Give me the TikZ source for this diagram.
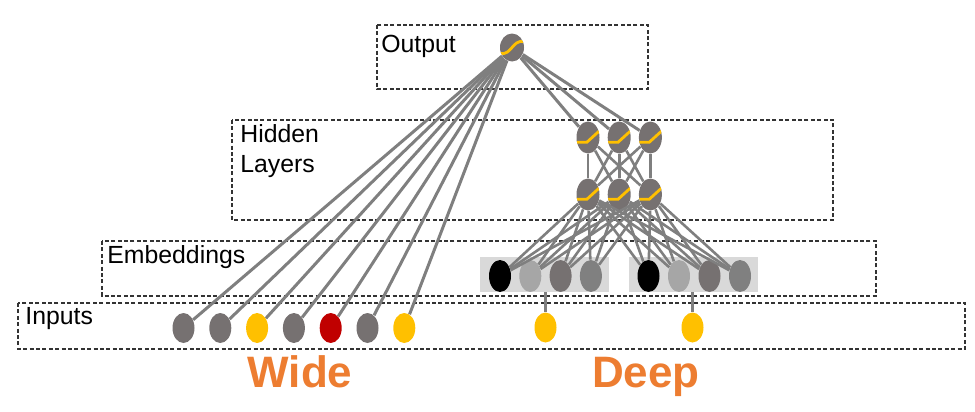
\documentclass[tikz,border=0pt]{standalone}
\usepackage{fontspec}
\setmainfont{Liberation Sans}
\usetikzlibrary{shapes.geometric,positioning}
\definecolor{unitgray}{HTML}{767171}
\definecolor{midunit}{HTML}{808080}
\definecolor{lightunit}{HTML}{A6A6A6}
\definecolor{amber}{HTML}{FFC000}
\definecolor{crimson}{HTML}{C00000}
\definecolor{linkgray}{HTML}{7F7F7F}
\definecolor{embfill}{HTML}{D9D9D9}
\definecolor{widedeep}{HTML}{ED7D31}
\tikzset{
    unit/.style={
        ellipse, fill=#1, inner sep=0pt,
        minimum width=11pt, minimum height=15pt,
    },
    relu unit/.style={
        unit=unitgray, minimum width=11.5pt, minimum height=16pt,
        path picture={\draw[amber, line width=1.4pt]
            ([shift={(-6pt,-2.4pt)}]path picture bounding box.center)
            -- ++(5.4pt,0pt) -- ++(6.6pt,6pt);},
    },
    sigmoid unit/.style={
        unit=unitgray, minimum width=12pt, minimum height=14pt,
        path picture={\draw[amber, line width=1.4pt, shift={(path picture bounding box.center)}]
            (-6pt,-3pt) .. controls (0pt,-4pt) and (0pt,4pt) .. (6pt,3pt);},
    },
}
\tikzstyle{wide and deep}=[
    x=0.5pt,y=-0.5pt,
    every node/.style={
        font=\fontsize{12.4}{15}\selectfont,
    },
    layer box/.style={
        draw=black!80, line width=0.6pt, dash pattern=on 2pt off 1.2pt,
        inner sep=0pt,
    },
    emb box/.style={fill=embfill, inner sep=0pt, minimum width=64.5pt, minimum height=17.5pt},
    layer label/.style={anchor=north west, inner sep=0pt, align=left},
    big label/.style={anchor=base, font=\fontsize{22}{26}\selectfont\bfseries, text=widedeep},
    link/.style={draw=linkgray, line width=1.5pt},
]

\begin{document}
\begin{tikzpicture}[wide and deep]
    \useasboundingbox (0,0) rectangle (975,412);

    % layer boxes
    \draw[layer box] (377,25) rectangle (648,89);
    \draw[layer box] (232,120) rectangle (833,220);
    \draw[layer box] (102,241) rectangle (876,296);
    \draw[layer box] (18,303) rectangle (965,349);
    \node[layer label] (outlabel) at (381,35) {Output};
    \node[layer label] (hidlabel) at (240,124) {Hidden\\Layers};
    \node[layer label] (emblabel) at (107,245) {Embeddings};
    \node[layer label] (inlabel) at (25,307) {Inputs};

    % embedding strips
    \node[emb box] (eb1) at (544,274.5) {};
    \node[emb box] (eb2) at (693.5,274.5) {};

    % units
    \node[sigmoid unit] (out) at (512,47.5) {};
    \node[relu unit] (h11) at (588,137.5) {};
    \node[relu unit, right=3.7pt of h11] (h12) {};
    \node[relu unit, right=3.7pt of h12] (h13) {};
    \node[relu unit] (h21) at (588,194.5) {};
    \node[relu unit, right=3.7pt of h21] (h22) {};
    \node[relu unit, right=3.7pt of h22] (h23) {};
    \foreach \c [count=\i] in {black,lightunit,unitgray,midunit} {
        \node[unit=\c, minimum height=16pt] (e\i) at ({500+30.3*(\i-1)},276) {};
        \node[unit=\c, minimum height=16pt] (f\i) at ({648.5+30.5*(\i-1)},276) {};
    }
    \foreach \c [count=\i] in {unitgray,unitgray,amber,unitgray,crimson,unitgray,amber}
        \node[unit=\c] (w\i) at ({183.5+36.8*(\i-1)},328) {};
    \node[unit=amber] (d1) at (545.5,327.5) {};
    \node[unit=amber] (d2) at (692.5,327.5) {};

    % connections
    \foreach \i in {1,...,7}
        \draw[link] (w\i) -- (out);
    \foreach \j in {1,2,3} {
        \draw[link] (h1\j) -- (out);
        \foreach \k in {1,2,3}
            \draw[link, line width=1.3pt] (h2\j) -- (h1\k);
        \foreach \i in {1,...,4} {
            \draw[link, line width=1.3pt] (e\i) -- (h2\j);
            \draw[link, line width=1.3pt] (f\i) -- (h2\j);
        }
    }
    \draw[link] (d1) -- (d1 |- eb1.south);
    \draw[link] (d2) -- (d2 |- eb2.south);

    \node[big label] (widelabel) at (300,387) {Wide};
    \node[big label] (deeplabel) at (646,387) {Deep};
\end{tikzpicture}
\end{document}
